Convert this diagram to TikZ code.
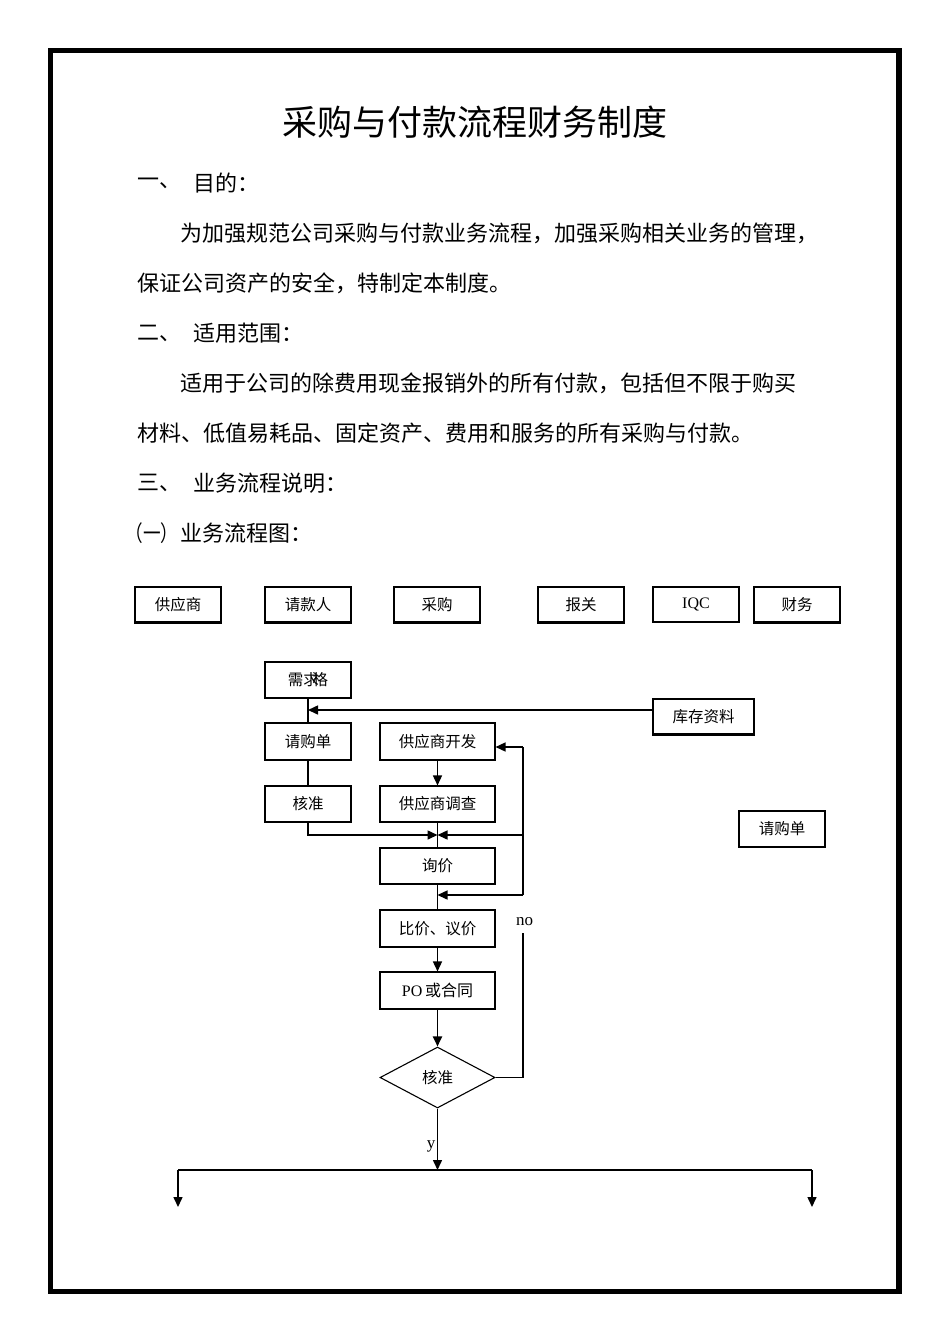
\documentclass[tikz,border=0pt]{standalone}
\usepackage{fontspec}
\setmainfont{Liberation Serif}
\newfontfamily\cjk{Noto Sans CJK SC}
\usetikzlibrary{arrows.meta,shapes.geometric}
\begin{document}
\begin{tikzpicture}[x=1pt,y=-1pt,
  box/.style={draw,line width=1.1pt,minimum width=86pt,minimum height=36pt,inner sep=0pt,font=\cjk\fontsize{15.5}{16}\selectfont},
  wbox/.style={box,minimum width=115pt},
  ln/.style={line width=1.5pt},
  arr/.style={line width=1.5pt,-{Triangle[length=10pt,width=9pt]}},
  body/.style={anchor=west,inner sep=0pt,font=\cjk\fontsize{22}{22}\selectfont},
  lbl/.style={inner sep=0pt,font=\fontsize{17}{17}\selectfont},
]
\useasboundingbox (0,0) rectangle (950,1344);
\fill[white] (0,0) rectangle (950,1344);
\draw[line width=5.2pt] (50.5,50.5) rectangle (899,1291.5);

% texts
\node[inner sep=0pt,font=\cjk\fontsize{35}{35}\selectfont] (title) at (475,122) {采购与付款流程财务制度};
\node[body] (s1n) at (137,183) {一、};
\node[body] (s1) at (193,183) {目的：};
\node[body] (p1a) at (180,233) {为加强规范公司采购与付款业务流程，加强采购相关业务的管理，};
\node[body] (p1b) at (137,283) {保证公司资产的安全，特制定本制度。};
\node[body] (s2n) at (137,333) {二、};
\node[body] (s2) at (193,333) {适用范围：};
\node[body] (p2a) at (180,383) {适用于公司的除费用现金报销外的所有付款，包括但不限于购买};
\node[body] (p2b) at (137,433) {材料、低值易耗品、固定资产、费用和服务的所有采购与付款。};
\node[body] (s3n) at (137,483) {三、};
\node[body] (s3) at (193,483) {业务流程说明：};
\node[inner sep=0pt,font=\cjk\fontsize{22}{22}\selectfont,xscale=0.8] (s31n) at (152,533) {（一）};
\node[body] (s31) at (180,533) {业务流程图：};

% header boxes
\foreach \n/\x/\t in {h1/178/供应商, h2/308/请款人, h3/437/采购, h4/581/报关, h6/797/财务}{
  \node[box,minimum height=35pt] (\n) at (\x,604.5) {\t};
  \draw[line width=2.2pt] (\n.south west) -- (\n.south east);
}
\node[box,minimum height=35pt,font=\fontsize{16}{16}\selectfont] (h5) at (696,604.5) {IQC};

% flow boxes
\node[box] (xq) at (308,680) {需\rlap{求}\hspace{0.6em}格};
\node[box,minimum width=101pt,minimum height=35pt] (kc) at (703.5,716.5) {库存资料};
\draw[line width=2pt] (kc.south west) -- (kc.south east);
\node[box,minimum height=37pt] (qg) at (308,741.5) {请购单};
\node[box] (hz1) at (308,804) {核准};
\node[wbox,minimum height=37pt] (kf) at (437.5,741.5) {供应商开发};
\node[wbox] (dc) at (437.5,804) {供应商调查};
\node[wbox] (xj) at (437.5,866) {询价};
\node[wbox,minimum height=37pt] (bj) at (437.5,928.5) {比价、议价};
\node[wbox,minimum height=37pt] (po) at (437.5,990.5) {\fontsize{16}{16}\selectfont\rmfamily PO\,\cjk 或合同};
\node[draw,line width=1.1pt,shape=diamond,aspect=1.885,minimum width=115pt,minimum height=61pt,inner sep=0pt,font=\cjk\fontsize{15.5}{16}\selectfont] (dm) at (437.5,1077.5) {核准};
\node[box] (qg2) at (782,829) {请购单};

% coordinates
\coordinate (j1) at (308,710);
\coordinate (j2) at (437.5,835);
\coordinate (j4) at (437.5,895);
\coordinate (c1) at (523,747);
\coordinate (c2) at (523,835);
\coordinate (c3) at (523,895);
\coordinate (n1) at (523,933);
\coordinate (j5) at (437.5,1170);
\coordinate (L) at (178,1170);
\coordinate (R) at (812,1170);
\coordinate (Ld) at (178,1207);
\coordinate (Rd) at (812,1207);

% connectors
\draw[ln] (xq.south) -- (qg.north);
\draw[arr] (kc.west |- j1) -- (j1);
\draw[ln] (qg.south) -- (hz1.north);
\draw[arr] (kf.south) -- (dc.north);
\draw[arr] (hz1.south) |- (j2);
\draw[ln] (dc.south) -- (xj.north);
\draw[ln] (c1) -- (c3);
\draw[arr] (c1) -- (kf.east |- c1);
\draw[arr] (c2) -- (j2);
\draw[arr] (c3) -- (j4);
\draw[ln] (xj.south) -- (bj.north);
\draw[arr] (bj.south) -- (po.north);
\draw[arr,line width=1.9pt] (po.south) -- (dm.north);
\draw[ln] (dm.east) -| (n1);
\node[lbl,anchor=west] (no) at (516,922) {no};
\draw[arr] (dm.south) -- (j5);
\node[lbl] (ylab) at (431,1146) {y};
\draw[ln] (L) -- (R);
\draw[arr] (L) -- (Ld);
\draw[arr] (R) -- (Rd);
\end{tikzpicture}
\end{document}
